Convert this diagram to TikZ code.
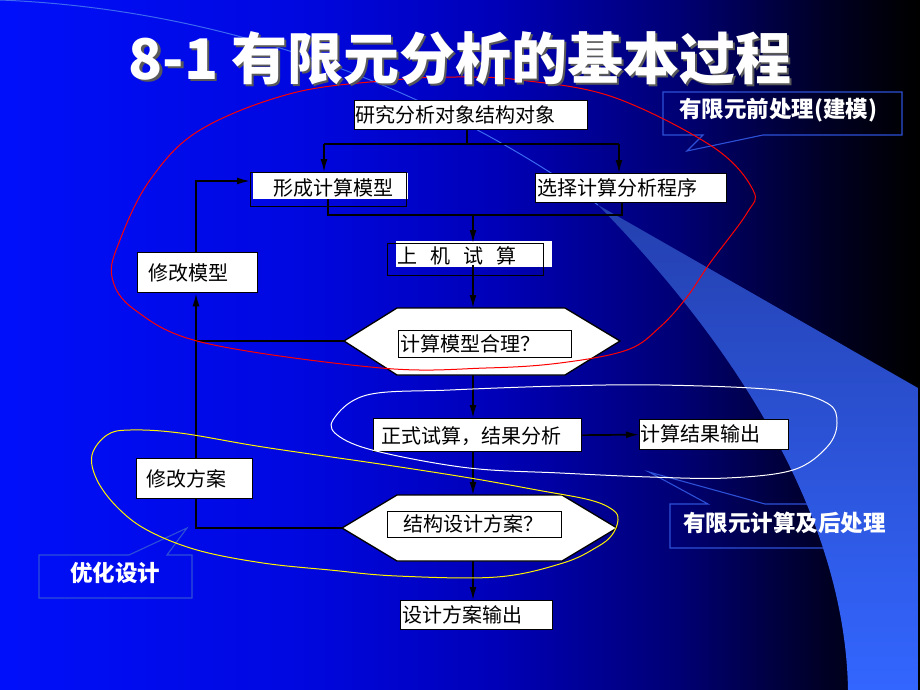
\documentclass[tikz,border=0pt]{standalone}
\usepackage{fontspec}
\newfontfamily\cjk{Noto Sans CJK SC}
\usetikzlibrary{arrows.meta}
\pgfdeclarehorizontalshading{bgshade}{100bp}{rgb(0bp)=(0,0.06,0.98); rgb(25bp)=(0,0.06,0.98); rgb(41bp)=(0,0.03,0.88); rgb(52bp)=(0,0,0.72); rgb(62bp)=(0,0,0.45); rgb(70bp)=(0,0,0.14); rgb(74bp)=(0,0,0.02); rgb(75bp)=(0,0,0); rgb(100bp)=(0,0,0)}
\definecolor{callblue}{RGB}{45,80,215}
\definecolor{swtop}{RGB}{36,64,175}
\definecolor{swmid}{RGB}{50,100,250}
\definecolor{swbot}{RGB}{51,102,255}
\definecolor{swline}{RGB}{60,105,240}
\begin{document}
\begin{tikzpicture}[x=1pt,y=-1pt,
  box/.style={draw=black, line width=1.3pt, fill=white, inner sep=0pt, anchor=north west},
  wbox/.style={fill=white, inner sep=0pt, anchor=north west},
  obox/.style={draw=black, line width=1.3pt, inner sep=0pt, anchor=north west},
  flow/.style={line width=1.7pt, draw=black},
  arr/.style={flow, -{Latex[length=13pt,width=7pt]}},
  txt/.style={inner sep=0pt, anchor=west, font=\cjk\fontsize{20}{20}\selectfont, text=black},
  call/.style={draw=callblue, line width=1.1pt},
  ctxt/.style={inner sep=0pt, anchor=west, font=\cjk\bfseries\fontsize{22.5}{22.5}\selectfont, text=white},
  ttl/.style={inner sep=0pt, font=\cjk\bfseries\fontsize{56}{56}\selectfont}
]
\useasboundingbox (0,0) rectangle (920,690);
% background
\shade[shading=bgshade] (0,0) rectangle (920,690);
% lower right callout (behind the swoosh)
\draw[call] (708,504) -- (649,472) -- (765,504) -- (905,504) -- (905,548) -- (670,548) -- (670,504) -- cycle;
% swoosh
\draw[swline, line width=1pt] (0,0) .. controls (250,10) and (460,105) .. (598,205);
\shade[top color=swtop, middle color=swmid, bottom color=swbot] (598,205) .. controls (740,350) and (845,520) .. (848,690) -- (918,690) -- (918,388) -- cycle;
% other callouts
\draw[call] (703,135) -- (687,151) -- (763,135) -- (902,135) -- (902,92) -- (663,92) -- (663,135) -- cycle;
\draw[call] (129,555) -- (187,528) -- (167,555) -- (192,555) -- (192,598) -- (39,598) -- (39,555) -- cycle;

% boxes
\node[box, minimum width=233pt, minimum height=29pt] (a) at (354,100) {};
\node[wbox, minimum width=155pt, minimum height=26pt] (bw) at (253,173) {};
\node[obox, minimum width=156pt, minimum height=34pt] (b) at (250,172) {};
\node[box, minimum width=191pt, minimum height=29pt] (c) at (535,173) {};
\node[wbox, minimum width=156pt, minimum height=26pt] (dw) at (396,241) {};
\node[obox, minimum width=156pt, minimum height=32pt] (d) at (387,243) {};
\node[box, minimum width=120pt, minimum height=40pt] (m1) at (137,252) {};
\node[box, minimum width=116pt, minimum height=40pt] (m2) at (136,458) {};
\node[box, minimum width=208pt, minimum height=33pt] (e) at (373,418) {};
\node[box, minimum width=149pt, minimum height=30pt] (f) at (639,419) {};
\node[box, minimum width=152pt, minimum height=29pt] (g) at (400,600) {};
% hexagons
\coordinate (h1l) at (344,341); \coordinate (h1r) at (620,341);
\coordinate (h1t) at (473,308); \coordinate (h1b) at (473,375);
\draw[line width=1.3pt, fill=white] (h1l) -- (397,308) -- (565,308) -- (h1r) -- (565,375) -- (397,375) -- cycle;
\node[box, minimum width=173pt, minimum height=27pt] (h1) at (398,330) {};
\coordinate (h2l) at (342,528); \coordinate (h2r) at (617,528);
\coordinate (h2t) at (473,495); \coordinate (h2b) at (473,561);
\draw[line width=1.3pt, fill=white] (h2l) -- (397,495) -- (562,495) -- (h2r) -- (562,561) -- (397,561) -- cycle;
\node[box, minimum width=174pt, minimum height=26pt] (h2) at (387,511) {};

% texts
\node[txt] at (355,114.5) {研究分析对象结构对象};
\node[txt] at (273,188) {形成计算模型};
\node[txt] at (537,188) {选择计算分析程序};
\node[txt] at (397,256) {上\hspace{13pt}机\hspace{13pt}试\hspace{13pt}算};
\node[txt] at (400,344) {计算模型合理？};
\node[txt] at (148,273) {修改模型};
\node[txt] at (146,479) {修改方案};
\node[txt] at (381,436) {正式试算，结果分析};
\node[txt] at (640,434) {计算结果输出};
\node[txt] at (403,524) {结构设计方案？};
\node[txt] at (402,615) {设计方案输出};

% connectors
\coordinate (jl) at (324,144); \coordinate (jr) at (619,144);
\draw[flow] (a.south -| 467,0) -- (jl -| 467,0);
\draw[flow] (jl) -- (jr);
\draw[arr] (jl) -- (jl |- b.north);
\draw[arr] (jr) -- (jr |- c.north);
\coordinate (ml) at (328,215); \coordinate (mr) at (622,215); \coordinate (mc) at (473,215);
\draw[flow] (ml |- bw.south) -- (ml) -- (mr) -- (mr |- c.south);
\draw[arr] (mc) -- (mc |- d.north);
\draw[arr] (h1t |- 0,265) -- (h1t);
\draw[arr] (h1b) -- (h1b |- e.north);
\draw[arr] (e.east) -- (f.west);
\draw[arr] (h2t |- e.south) -- (h2t);
\draw[arr] (h2b) -- (h2b |- g.north);
\coordinate (lx) at (196,0);
\draw[flow] (h2l) -- (h2l -| lx) -- (lx |- m2.south);
\draw[arr] (lx |- m2.north) -- (lx |- m1.south);
\draw[flow] (h1l) -- (h1l -| lx);
\coordinate (bin) at (250,181);
\draw[arr] (lx |- m1.north) |- (bin);

% enclosing curves
\draw[red, line width=1pt] plot[smooth cycle, tension=0.6] coordinates {(457,77) (520,80) (613,97) (713,147) (753,190) (747,213) (710,263) (687,297) (660,327) (627,350) (560,363) (486,368) (381,368) (205,343) (135,310) (112,277) (120,240) (150,180) (200,130) (293,93) (393,80)};
\draw[white, line width=1pt] plot[smooth cycle, tension=0.6] coordinates {(367,395) (450,390) (560,386) (660,385) (777,390) (827,403) (837,423) (827,447) (793,470) (727,478) (650,477) (560,473) (469,468) (380,452) (340,437) (333,420)};
\draw[yellow, line width=1pt] plot[smooth cycle, tension=0.6] coordinates {(92,455) (107,435) (130,430) (180,433) (263,447) (380,464) (470,478) (537,490) (590,500) (613,510) (618,520) (612,535) (597,547) (563,563) (497,577) (397,576) (330,570) (263,563) (197,550) (147,530) (117,507) (97,480)};

% callout texts
\node[ctxt] (p1t) at (679,110) {有限元前处理(建模)};
\node[ctxt] (p2t) at (683,523) {有限元计算及后处理};
\node[ctxt] (p3t) at (70,573) {优化设计};

% title
\node[ttl, text=black!65] at (462.5,60.5) {8-1 有限元分析的基本过程};
\node[ttl, text=white] (title) at (460,58) {8-1 有限元分析的基本过程};
\end{tikzpicture}
\end{document}
